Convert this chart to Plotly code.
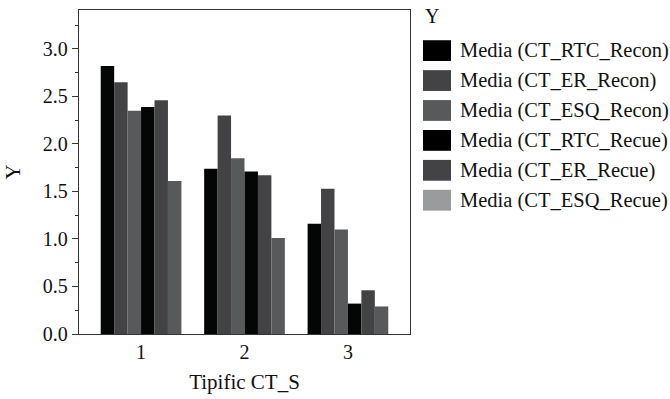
import plotly.graph_objects as go

categories = [1, 2, 3]
series_names = [
    "Media (CT_RTC_Recon)",
    "Media (CT_ER_Recon)",
    "Media (CT_ESQ_Recon)",
    "Media (CT_RTC_Recue)",
    "Media (CT_ER_Recue)",
    "Media (CT_ESQ_Recue)",
]
rtc_recon = [2.82, 1.74, 1.16]
er_recon = [2.65, 2.30, 1.53]
esq_recon = [2.35, 1.85, 1.10]
rtc_recue = [2.39, 1.71, 0.32]
er_recue = [2.46, 1.67, 0.46]
esq_recue = [1.61, 1.01, 0.29]
series_values = [rtc_recon, er_recon, esq_recon, rtc_recue, er_recue, esq_recue]

bar_colors = ["#030605", "#434345", "#58595b", "#030605", "#434345", "#58595b"]
legend_colors = ["#000000", "#434345", "#58595b", "#000000", "#434345", "#9a9b9d"]

FONT = "Liberation Serif"

fig = go.Figure()
for name, vals, col in zip(series_names, series_values, bar_colors):
    fig.add_trace(go.Bar(x=categories, y=vals, name=name, marker=dict(color=col, line=dict(width=0)),
                         showlegend=False))

# plot area in pixels
L, R, T, B = 79, 260, 9, 63
W, H = 670, 399
pw, ph = W - L - R, H - T - B

def px2x(px):
    return (px - L) / pw

def py2y(py):
    return (H - B - py) / ph

shapes = []
annotations = []
annotations.append(dict(x=px2x(423), y=py2y(15), xref="paper", yref="paper", text="Y",
                        showarrow=False, xanchor="left", yanchor="middle",
                        font=dict(family=FONT, size=20, color="#111")))
for i, (name, col) in enumerate(zip(series_names, legend_colors)):
    cy = 50 + 30.2 * i
    shapes.append(dict(type="rect", xref="paper", yref="paper",
                       x0=px2x(423), x1=px2x(451), y0=py2y(cy - 10.5), y1=py2y(cy + 10.5),
                       fillcolor=col, line=dict(width=0)))
    annotations.append(dict(x=px2x(458), y=py2y(cy), xref="paper", yref="paper", text=name,
                            showarrow=False, xanchor="left", yanchor="middle",
                            font=dict(family=FONT, size=20.5, color="#111")))

fig.update_layout(
    width=W, height=H,
    margin=dict(l=L, r=R, t=T, b=B),
    paper_bgcolor="white", plot_bgcolor="white",
    barmode="group", bargap=0.22, bargroupgap=0,
    font=dict(family=FONT, size=20, color="#111"),
    shapes=shapes, annotations=annotations,
    showlegend=False,
)
fig.update_xaxes(
    range=[0.4, 3.6], tickvals=categories, ticktext=[str(c) for c in categories],
    ticks="", showgrid=False, zeroline=False,
    showline=True, linecolor="#333", linewidth=1.3, mirror=True,
    title=dict(text="Tipific CT_S", font=dict(family=FONT, size=21), standoff=12),
    tickfont=dict(family=FONT, size=20),
)
fig.update_yaxes(
    range=[0, 3.41], dtick=0.5, tick0=0, tickformat=".1f",
    ticks="outside", ticklen=6, tickwidth=1, tickcolor="#333",
    minor=dict(dtick=0.25, ticks="outside", ticklen=3, tickwidth=1, tickcolor="#333"),
    showgrid=False, zeroline=False,
    showline=True, linecolor="#333", linewidth=1.3, mirror=True,
    title=dict(text="Y", font=dict(family=FONT, size=21), standoff=16),
    tickfont=dict(family=FONT, size=20),
)

fig.write_html("out.html", config={"displayModeBar": False},
               post_script="document.body.style.margin='0px';")
